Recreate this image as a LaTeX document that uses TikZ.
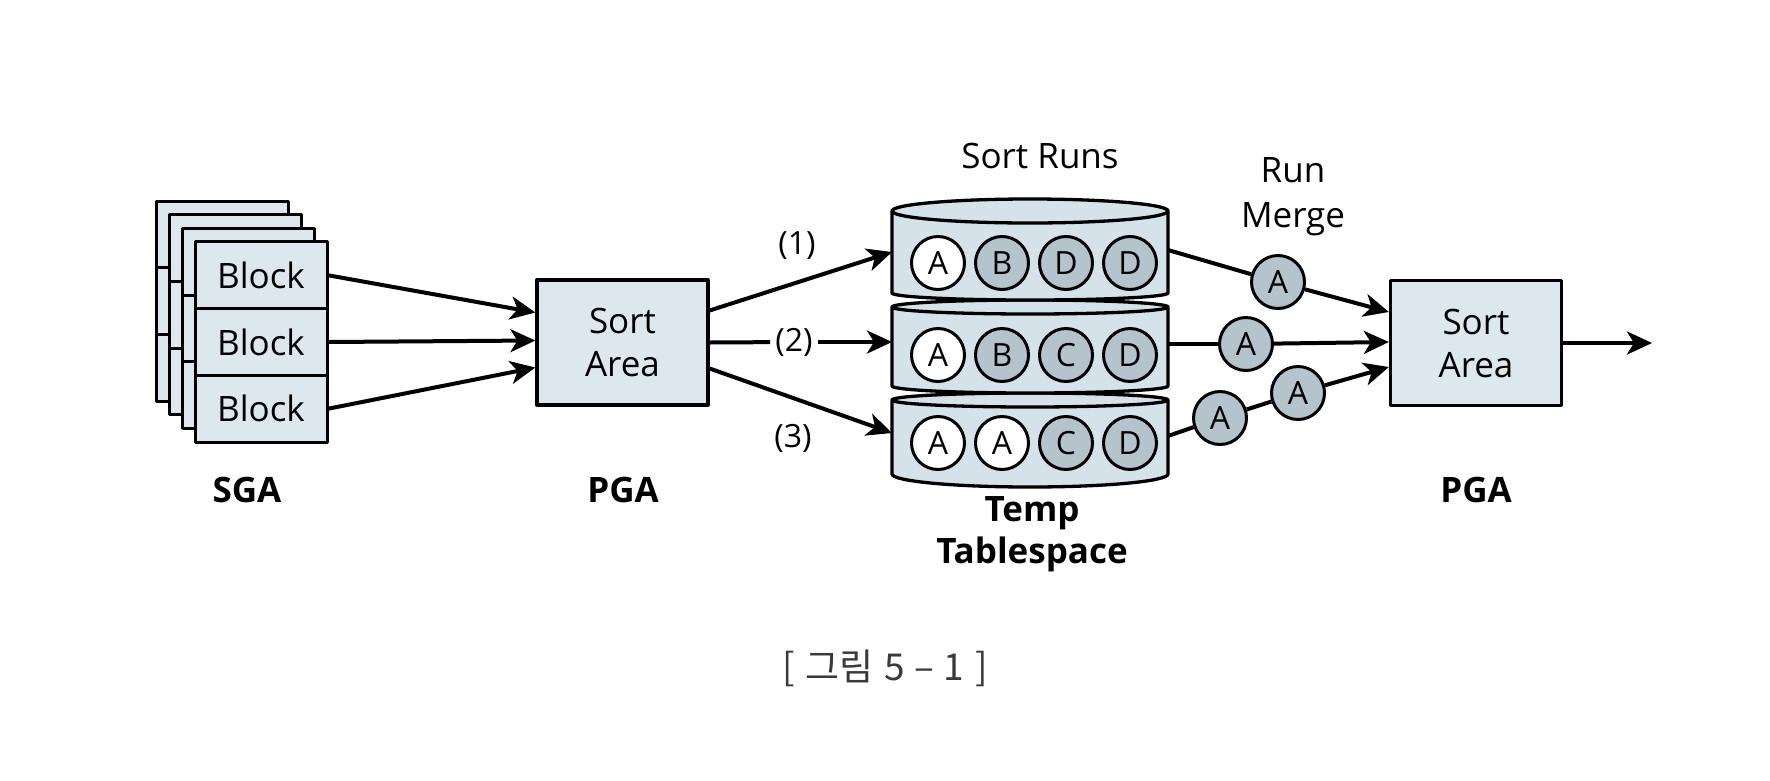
\documentclass[tikz,border=0pt]{standalone}
\usepackage{fontspec}
\setmainfont{Open Sans}
\newfontfamily\krfont{Noto Sans CJK KR}
\usetikzlibrary{arrows.meta}
\definecolor{boxfill}{HTML}{DDE8EE}
\definecolor{cylfill}{HTML}{D6E2E9}
\definecolor{dotfill}{HTML}{B5C3CC}
\definecolor{capgray}{HTML}{3A3A3A}
\begin{document}
\begin{tikzpicture}[x=1pt,y=1pt,line join=round,
  box/.style={draw, line width=3.3pt, fill=boxfill, minimum width=171pt, minimum height=125pt, inner sep=0pt, font=\fontsize{35}{43}\selectfont, align=center},
  blk/.style={draw, line width=3pt, fill=boxfill, minimum width=132pt, minimum height=66.7pt, inner sep=0pt, font=\fontsize{35}{42}\selectfont},
  dot/.style={circle, draw, line width=3pt, minimum size=53pt, inner sep=0pt, font=\fontsize{32}{32}\selectfont},
  wdot/.style={dot, fill=white},
  gdot/.style={dot, fill=dotfill},
  arr/.style={line width=4pt, -{Stealth[length=25pt,width=23pt,inset=7pt]}},
  ln/.style={line width=4pt},
  lbl/.style={font=\fontsize{35}{45}\selectfont, align=center, inner sep=0pt},
  blbl/.style={font=\fontsize{35}{42}\selectfont\bfseries, align=center, inner sep=0pt},
  plbl/.style={font=\fontsize{32}{32}\selectfont, inner sep=0pt},
]
\useasboundingbox (0,0) rectangle (1770,-780);

% back layers of blocks
\foreach \i in {0,1,2} {
  \pgfmathsetmacro\xx{156+13*\i}
  \pgfmathsetmacro\yy{201+13.67*\i}
  \foreach \j in {0,1,2}
    \draw[line width=3pt, fill=boxfill] (\xx,-\yy-66.67*\j) rectangle ++(132,-66.67);
}
% front blocks
\node[blk] (b1) at (261,-275.33) {Block};
\node[blk] (b2) at (261,-342) {Block};
\node[blk] (b3) at (261,-408.67) {Block};

% sort areas
\node[box] (sa1) at (622.5,-342.5) {Sort\\Area};
\node[box] (sa2) at (1476,-343) {Sort\\Area};

% cylinders (bottom first)
\foreach \t/\rt/\b/\rb in {400/7/474/13, 307/7/386/7, 211/12/293/7} {
  \draw[line width=3.3pt, fill=cylfill] (892,-\t) -- (892,-\b)
    arc[start angle=180,end angle=360,x radius=138,y radius=\rb]
    -- (1168,-\t) arc[start angle=0,end angle=180,x radius=138,y radius=\rt] -- cycle;
  \draw[line width=3.3pt] (1168,-\t) arc[start angle=0,end angle=-180,x radius=138,y radius=\rt];
}

% run circles
\node[wdot] (r1a) at (938,-263) {A};
\node[gdot] (r1b) at (1002,-263) {B};
\node[gdot] (r1c) at (1066,-263) {D};
\node[gdot] (r1d) at (1130,-263) {D};
\node[wdot] (r2a) at (938,-355) {A};
\node[gdot] (r2b) at (1002,-355) {B};
\node[gdot] (r2c) at (1066,-355) {C};
\node[gdot] (r2d) at (1130,-355) {D};
\node[wdot] (r3a) at (938,-443) {A};
\node[wdot] (r3b) at (1002,-443) {A};
\node[gdot] (r3c) at (1066,-443) {C};
\node[gdot] (r3d) at (1130,-443) {D};

% cylinder attach points
\coordinate (c1w) at (892,-252);
\coordinate (c2w) at (892,-342);
\coordinate (c3w) at (892,-433);
\coordinate (c1e) at (1168,-250);
\coordinate (c2e) at (1168,-344);
\coordinate (c3e) at (1168,-436);
\coordinate (out) at (1652,-343);

% block -> sort area arrows
\draw[arr] (b1.east) -- ([yshift=30pt]sa1.west);
\draw[arr] (b2.east) -- ([yshift=2pt]sa1.west);
\draw[arr] (b3.east) -- ([yshift=-25pt]sa1.west);

% sort area -> runs
\node[plbl] (l1) at (797,-246) {(1)};
\node[plbl, inner sep=5pt] (l2) at (794,-342) {(2)};
\node[plbl] (l3) at (793,-438) {(3)};
\draw[arr] ([yshift=32pt]sa1.east) -- (c1w);
\draw[ln] (sa1.east) -- (l2);
\draw[arr] (l2) -- (c2w);
\draw[arr] ([yshift=-26pt]sa1.east) -- (c3w);

% merge circles
\node[gdot] (m1) at (1278,-282) {A};
\node[gdot] (m2) at (1246,-344) {A};
\node[gdot] (m3) at (1220,-418) {A};
\node[gdot] (m4) at (1298,-393) {A};
\draw[ln] (c1e) -- (m1);
\draw[arr] (m1) -- ([yshift=31pt]sa2.west);
\draw[ln] (c2e) -- (m2);
\draw[arr] (m2) -- ([yshift=1pt]sa2.west);
\draw[ln] (c3e) -- (m3);
\draw[ln] (m3) -- (m4);
\draw[arr] (m4) -- ([yshift=-24pt]sa2.west);
\draw[arr] (sa2.east) -- (out);

% labels
\node[lbl] (sortruns) at (1040,-156) {Sort Runs};
\node[lbl] (runmerge) at (1293,-197) {Run\\Merge};
\node[blbl] (sga) at (247,-490) {SGA};
\node[blbl] (pga1) at (623,-490) {PGA};
\node[blbl] (pga2) at (1476,-490) {PGA};
\node[blbl] (temp) at (1032,-534) {Temp\\Tablespace};
\node[inner sep=0pt, text=capgray, font=\krfont\fontsize{37}{37}\selectfont] (cap) at (885,-668) {[\hspace{0.3em}그림\hspace{0.3em}5\hspace{0.25em}–\hspace{0.25em}1\hspace{0.3em}]};
\end{tikzpicture}
\end{document}
